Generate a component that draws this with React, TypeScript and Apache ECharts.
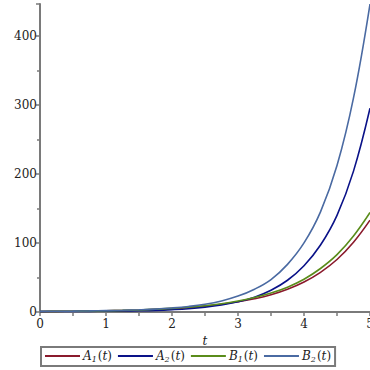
import React, { useEffect, useRef } from "react";
import * as echarts from "echarts";

const tValues = [0, 0.25, 0.5, 0.75, 1, 1.25, 1.5, 1.75, 2, 2.25, 2.5, 2.75, 3, 3.25, 3.5, 3.75, 4, 4.25, 4.5, 4.75, 5];
const A1 = [0.8, 0.9, 1.1, 1.4, 1.7, 2.2, 2.9, 3.8, 4.9, 6.4, 8.5, 11.2, 14.8, 19.2, 25, 33, 43.5, 57.5, 76, 101, 133];
const A2 = [0.6, 0.7, 0.8, 0.9, 1.1, 1.4, 1.8, 2.4, 3.4, 4.8, 7.0, 10.2, 14.8, 21.5, 31.5, 46, 67, 97, 140, 204, 295];
const B1 = [0.8, 0.9, 1.1, 1.4, 1.8, 2.3, 3.0, 4.0, 5.2, 6.8, 9.0, 12.0, 16.0, 21, 27.5, 36, 47.5, 63, 83, 110, 144];
const B2 = [1.0, 1.1, 1.3, 1.6, 2.0, 2.5, 3.2, 4.2, 5.8, 8.0, 11.2, 16.0, 23, 33, 47, 69, 100, 145, 212, 310, 446];

const seriesNames = ["A1(t)", "A2(t)", "B1(t)", "B2(t)"];
const seriesData = [A1, A2, B1, B2];
const colors = ["#8a1a2c", "#0a1288", "#5a8c1a", "#4a6aa2"];

const FONT = "DejaVu Serif";

export default function App() {
  const ref = useRef<HTMLDivElement>(null);
  useEffect(() => {
    if (!ref.current) return;
    const chart = echarts.init(ref.current, undefined, { renderer: "svg" });
    const axisColor = "#7a7a7a";
    chart.setOption({
      animation: false,
      grid: { left: 40, right: 0, top: 4, bottom: 58, containLabel: false, outerBoundsMode: "none" },
      xAxis: {
        type: "value",
        min: 0,
        max: 5,
        interval: 1,
        name: "t",
        nameLocation: "middle",
        nameGap: 23,
        nameTextStyle: { fontFamily: FONT, fontStyle: "italic", fontSize: 12, color: "#222" },
        axisLine: { onZero: true, lineStyle: { color: axisColor, width: 2 } },
        axisTick: { show: true, length: 4, lineStyle: { color: axisColor, width: 1.5 } },
        minorTick: { show: true, splitNumber: 2, length: 4, lineStyle: { color: axisColor, width: 1.5 } },
        axisLabel: { fontFamily: FONT, fontSize: 12, color: "#222", margin: 6 },
        splitLine: { show: false },
      },
      yAxis: {
        type: "value",
        min: 0,
        max: 446,
        interval: 100,
        axisLine: { show: true, lineStyle: { color: axisColor, width: 2 } },
        axisTick: { show: true, length: 4, lineStyle: { color: axisColor, width: 1.5 } },
        minorTick: { show: true, splitNumber: 2, length: 3, lineStyle: { color: axisColor, width: 1.5 } },
        axisLabel: { fontFamily: FONT, fontSize: 12, color: "#222", margin: 3, showMaxLabel: false },
        splitLine: { show: false },
      },
      legend: {
        left: 41,
        bottom: 4,
        data: seriesNames,
        icon: "rect",
        itemWidth: 35,
        itemHeight: 2,
        itemGap: 6,
        padding: [3, 4, 3, 4],
        borderColor: axisColor,
        borderWidth: 2,
        borderRadius: 0,
        formatter: (name: string) => {
          const letter = name[0];
          const sub = name[1];
          return `{i|${letter}}{s|${sub}}{n|(}{i|t}{n|)}`;
        },
        textStyle: {
          fontFamily: FONT,
          fontSize: 12,
          color: "#222",
          padding: [0, 0, 0, -2],
          rich: {
            i: { fontFamily: FONT, fontStyle: "italic", fontSize: 12, color: "#222" },
            s: { fontFamily: FONT, fontStyle: "italic", fontSize: 8, color: "#222", verticalAlign: "bottom", padding: [6, 1, 0, 0] },
            n: { fontFamily: FONT, fontSize: 12, color: "#222" },
          },
        },
      },
      series: seriesNames.map((name, k) => ({
        name,
        type: "line",
        smooth: 0.4,
        showSymbol: false,
        symbol: "none",
        color: colors[k],
        lineStyle: { width: 1.6, color: colors[k] },
        data: tValues.map((t, i) => [t, seriesData[k][i]]),
      })),
    });
    return () => chart.dispose();
  }, []);
  return (
    <div
      ref={ref}
      style={{ position: "fixed", left: 0, top: 0, width: 370, height: 370, background: "#fff" }}
    />
  );
}
